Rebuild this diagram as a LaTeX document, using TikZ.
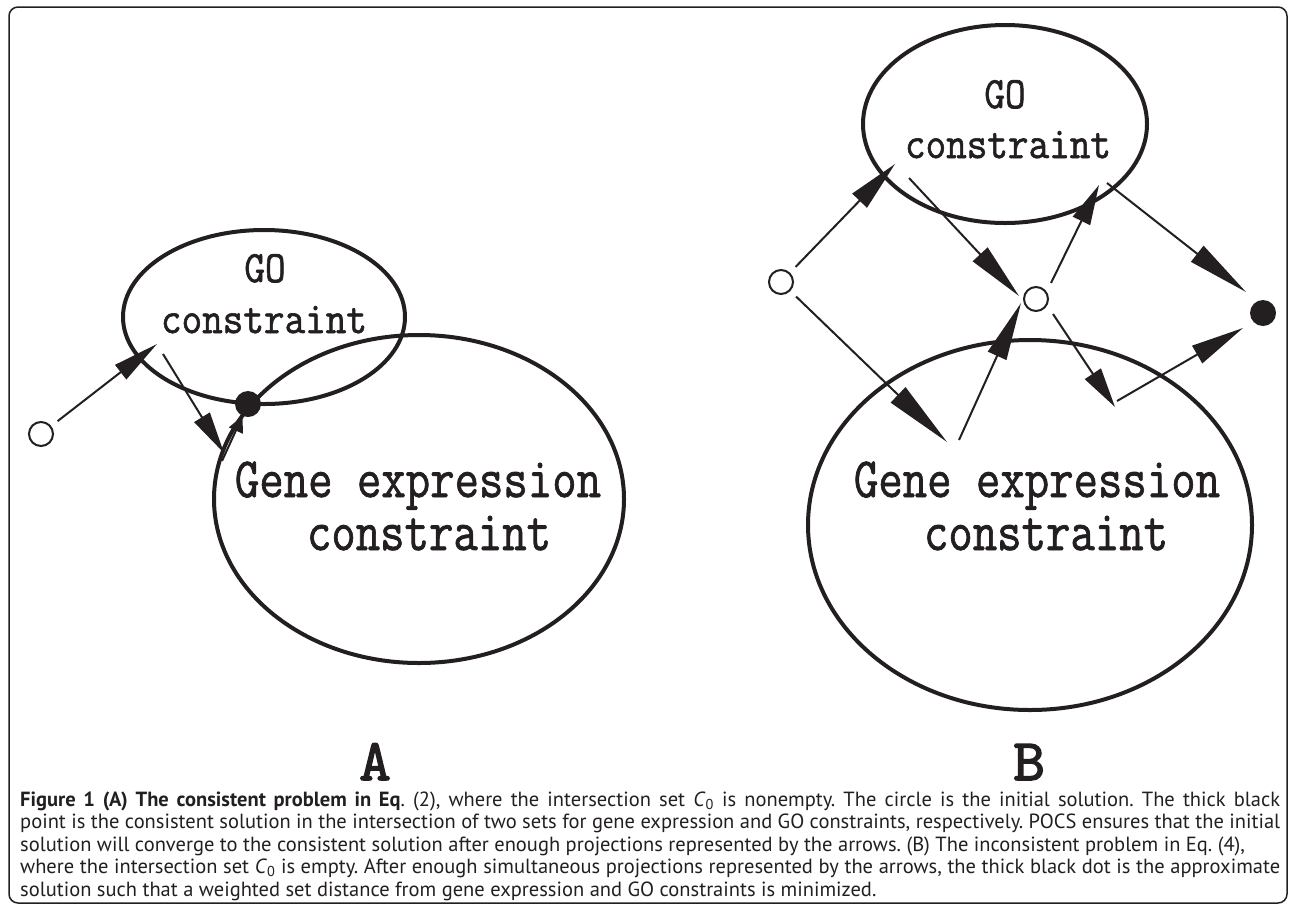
\documentclass[tikz,border=0pt]{standalone}
\usepackage{fontspec}
\setmainfont{PT Sans}
\newfontfamily\monof[FakeBold=1.4]{Latin Modern Mono}
\newfontfamily\panelf[FakeBold=2.5]{Latin Modern Mono}
\usetikzlibrary{arrows.meta,shapes.geometric}
\definecolor{ink}{HTML}{231F20}
\newcommand\tallt[2]{\scalebox{1}[#1]{#2}}
\begin{document}
\frenchspacing
\begin{tikzpicture}[x=1pt,y=-1pt,
  ell/.style={ellipse, draw=ink, line width=4pt, inner sep=0pt},
  ocirc/.style={circle, draw=ink, line width=2pt, fill=white, minimum size=24pt, inner sep=0pt},
  bdot/.style={circle, fill=ink, minimum size=26pt, inner sep=0pt},
  arr/.style 2 args={draw=ink, line width=2pt, -{Triangle[length=#1pt,width=#2pt]}},
  golbl/.style={font=\monof\fontsize{40}{40}\selectfont, text=ink, inner sep=0pt, anchor=base},
  genelbl/.style={font=\monof\fontsize{47.4}{47.4}\selectfont, text=ink, inner sep=0pt, anchor=base},
  panel/.style={font=\panelf\fontsize{56}{56}\selectfont, text=ink, inner sep=0pt, anchor=base},
  capline/.style={font=\fontsize{20.5}{22}\selectfont, text=ink, inner sep=0pt, anchor=base west}
]
\path[use as bounding box] (0,0) rectangle (1292,914);
\draw[ink, line width=1.5pt, rounded corners=9pt] (9,7) rectangle (1287,903);

% ---------- Panel A ----------
\node[ell, minimum width=282pt, minimum height=174pt] (goA) at (264,317) {};
\node[ell, minimum width=410pt, minimum height=328pt] (geA) at (419,499) {};
\node[golbl] (goAt1) at (265,282) {\tallt{1.12}{GO}};
\node[golbl] (goAt2) at (264,333) {\tallt{1.12}{constraint}};
\node[genelbl] (geAt1) at (418,497) {\tallt{1.2}{Gene expression}};
\node[genelbl] (geAt2) at (429,550) {\tallt{1.2}{constraint}};

\node[ocirc] (c0A) at (41,434) {};
\node[bdot] (dotA) at (248,404) {};
\coordinate (tA1) at (157,344);
\coordinate (sA2) at (163,354);
\coordinate (tA2) at (224,453);
\coordinate (sA3) at (222,461);
\draw[arr={46}{18}, shorten <=8pt] (c0A) -- (tA1);
\draw[arr={42}{18}] (sA2) -- (tA2);
\draw[arr={16}{15}] (sA3) -- (dotA);

\node[panel] (labA) at (375,780) {\scalebox{1.1}[1.05]{A}};

% ---------- Panel B ----------
\node[ell, minimum width=284pt, minimum height=198pt] (goB) at (1005,124) {};
\node[ell, minimum width=444pt, minimum height=370pt] (geB) at (1030,525) {};
\node[golbl] (goBt1) at (1005,108) {\tallt{1.12}{GO}};
\node[golbl] (goBt2) at (1008,158) {\tallt{1.12}{constraint}};
\node[genelbl] (geBt1) at (1037,497) {\tallt{1.2}{Gene expression}};
\node[genelbl] (geBt2) at (1046,550) {\tallt{1.2}{constraint}};

\node[ocirc] (c0B) at (781,282) {};
\node[ocirc] (cmB) at (1036,299) {};
\node[bdot] (dotB) at (1263,313) {};
\coordinate (t1) at (895,164);
\coordinate (t2) at (947,442);
\coordinate (s3) at (909,178);
\coordinate (t3) at (1019,296);
\coordinate (s4) at (1051,283);
\coordinate (t4) at (1099,185);
\coordinate (s5) at (1107,183);
\coordinate (t5) at (1246,292);
\coordinate (s6) at (959,440);
\coordinate (t6) at (1021,303);
\coordinate (s7) at (1053,314);
\coordinate (t7) at (1115,407);
\coordinate (s8) at (1117,401);
\coordinate (t8) at (1243,328);
\draw[arr={51}{20}, shorten <=8pt] (c0B) -- (t1);
\draw[arr={68}{21}, shorten <=8pt] (c0B) -- (t2);
\draw[arr={57}{20}] (s3) -- (t3);
\draw[arr={40}{19}] (s4) -- (t4);
\draw[arr={62}{20}] (s5) -- (t5);
\draw[arr={58}{20}] (s6) -- (t6);
\draw[arr={40}{19}] (s7) -- (t7);
\draw[arr={53}{20}] (s8) -- (t8);

\node[panel] (labB) at (1029,780) {\scalebox{1.1}[1.05]{B}};

% ---------- Caption ----------
\node[capline] (cap1) at (20,806) {\makebox[1260pt][s]{\textbf{Figure 1 (A) The consistent problem in Eq}. (2), where the intersection set \textit{C}\textsubscript{0} is nonempty. The circle is the initial solution. The thick black}};
\node[capline] (cap2) at (20,828.5) {\makebox[1260pt][s]{point is the consistent solution in the intersection of two sets for gene expression and GO constraints, respectively. POCS ensures that the initial}};
\node[capline] (cap3) at (20,851) {solution will converge to the consistent solution after enough projections represented by the arrows. (B) The inconsistent problem in Eq. (4),};
\node[capline] (cap4) at (20,873.5) {\makebox[1260pt][s]{where the intersection set \textit{C}\textsubscript{0} is empty. After enough simultaneous projections represented by the arrows, the thick black dot is the approximate}};
\node[capline] (cap5) at (20,896) {solution such that a weighted set distance from gene expression and GO constraints is minimized.};
\end{tikzpicture}
\end{document}
